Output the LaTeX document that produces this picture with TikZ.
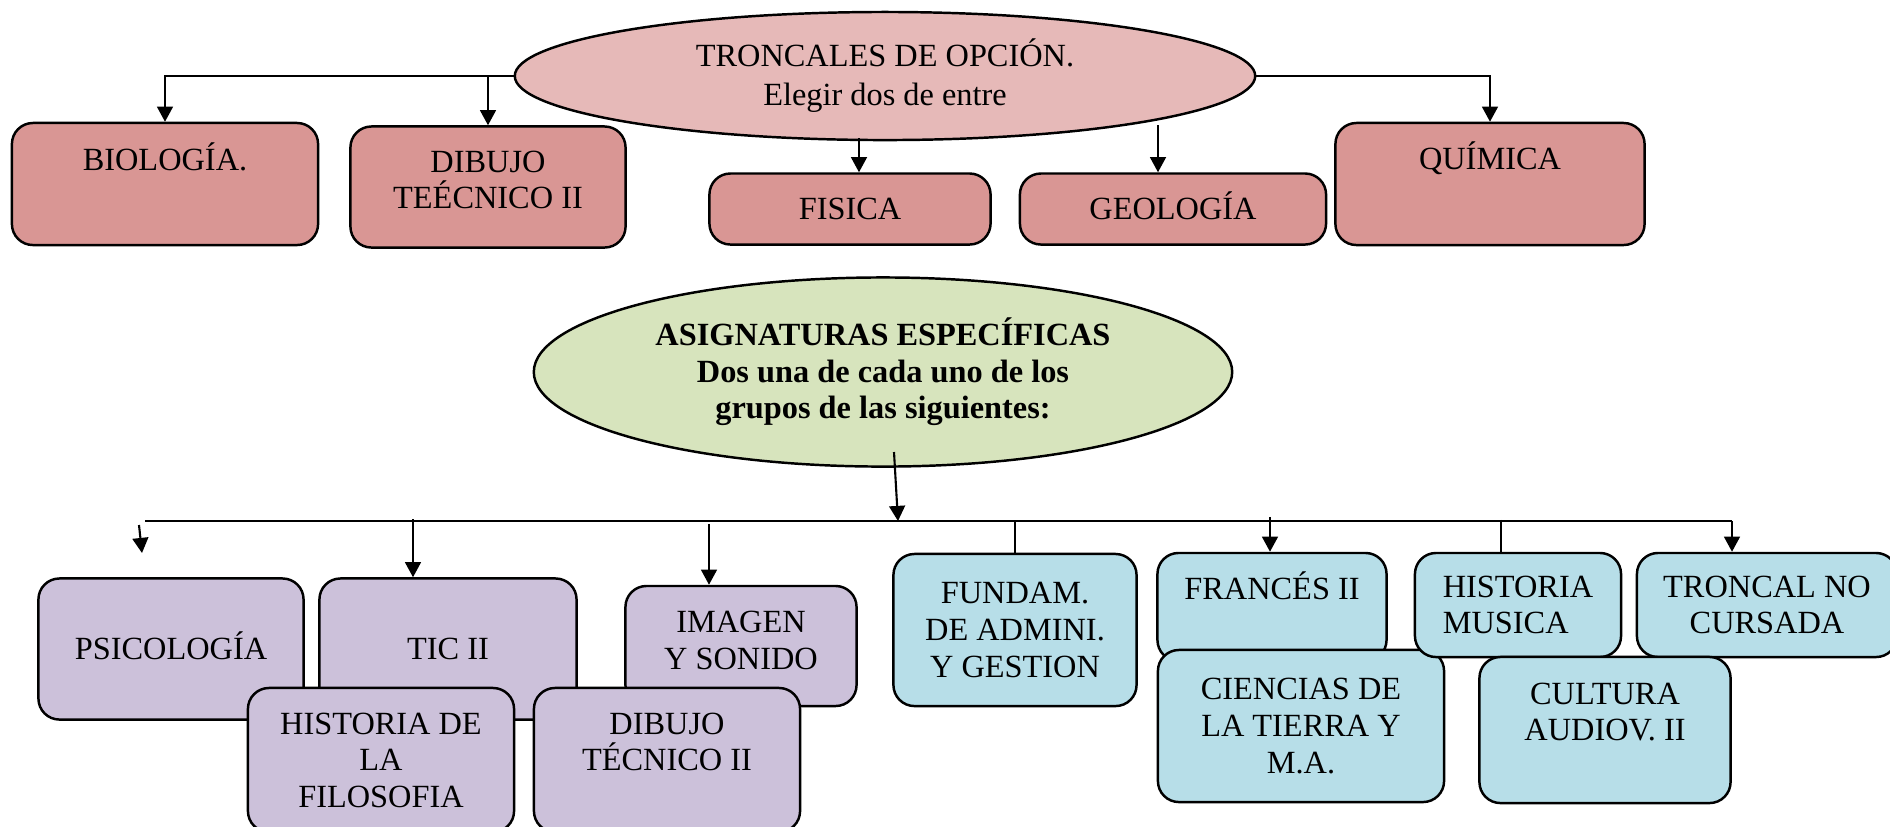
\documentclass[tikz,border=0pt]{standalone}
\usepackage{fontspec}
\setmainfont{Liberation Serif}
\usetikzlibrary{arrows.meta,shapes.geometric,calc}
\definecolor{rosaclaro}{HTML}{E6B9B8}
\definecolor{rosa}{HTML}{D99694}
\definecolor{verde}{HTML}{D7E4BD}
\definecolor{lila}{HTML}{CCC1DA}
\definecolor{celeste}{HTML}{B7DEE8}
\tikzset{
  caja/.style={draw,line width=0.7pt,rounded corners=0.21cm,inner sep=2pt,align=center},
  elipse/.style={draw,ellipse,line width=0.7pt,inner sep=0pt,align=center},
  linea/.style={text height=6.1pt,text depth=#1},
  linea/.default=0pt,
  flecha/.style={-{Triangle[length=4.3pt,width=4.5pt]}}
}

\begin{document}
\begin{tikzpicture}[x=0.01cm,y=-0.01cm,line width=0.6pt,font=\fontsize{9.2}{10.4}\selectfont]
        \useasboundingbox (0,0) rectangle (1890,826) ;
        % troncales de opcion
        \node[elipse,fill=rosaclaro,minimum width=7.4cm,minimum height=1.28cm] (tron) at (885,76)
        {TRONCALES DE OPCIÓN.\\[0.7pt]Elegir dos de entre} ;
        \node[caja,fill=rosa,linea=13.7pt,minimum width=3.06cm,minimum height=1.22cm] (bio) at (165,184) {BIOLOGÍA.} ;
        \node[caja,fill=rosa,minimum width=2.75cm,minimum height=1.21cm] (dib1) at (488,187) {DIBUJO\\TEÉCNICO II\\[-6.4pt]\mbox{}} ;
        \node[caja,fill=rosa,linea,minimum width=2.81cm,minimum height=0.71cm] (fis) at (850,209) {FISICA} ;
        \node[caja,fill=rosa,linea,minimum width=3.06cm,minimum height=0.71cm] (geo) at (1173,209) {GEOLOGÍA} ;
        \node[caja,fill=rosa,linea=14.2pt,minimum width=3.09cm,minimum height=1.22cm] (qui) at (1490,184) {QUÍMICA} ;
        \draw[flecha] (tron.west) -| (bio.north) ;
        \draw[flecha] (dib1.north |- tron.west) -- (dib1.north) ;
        \draw[flecha] (tron.east) -| (qui.north) ;
        \draw[flecha] ($(fis.north)+(9,-34)$) -- ($(fis.north)+(9,0)$) ;
        \coordinate (g0) at (1158,125) ;
        \draw[flecha] (g0) -- (g0 |- geo.north) ;
        % especificas
        \node[elipse,fill=verde,minimum width=6.98cm,minimum height=1.89cm,font=\fontsize{9.2}{10.4}\selectfont\bfseries] (esp) at (883,372)
        {ASIGNATURAS ESPECÍFICAS\\Dos una de cada uno de los\\grupos de las siguientes:} ;
        \node[caja,fill=lila,linea,minimum width=2.65cm,minimum height=1.41cm] (psi) at (171,649) {PSICOLOGÍA} ;
        \node[caja,fill=lila,linea,minimum width=2.57cm,minimum height=1.41cm] (tic) at (448,649) {TIC II} ;
        \node[caja,fill=lila,minimum width=2.31cm,minimum height=1.2cm] (img) at (741,646) {IMAGEN\\Y SONIDO\\[-7pt]\mbox{}} ;
        \node[caja,fill=lila,minimum width=2.66cm,minimum height=1.44cm] (fil) at (381,760) {HISTORIA DE\\LA\\FILOSOFIA} ;
        \node[caja,fill=lila,minimum width=2.66cm,minimum height=1.44cm] (dib2) at (667,760) {DIBUJO\\TÉCNICO II\\\mbox{}} ;
        \node[caja,fill=celeste,minimum width=2.43cm,minimum height=1.52cm] (fun) at (1015,630) {FUNDAM.\\DE ADMINI.\\Y GESTION} ;
        \node[caja,fill=celeste,linea=10.2pt,minimum width=2.29cm,minimum height=1.08cm] (fra) at (1272,607) {FRANCÉS II} ;
        \node[caja,fill=celeste,minimum width=2.86cm,minimum height=1.52cm] (cie) at (1301,726) {CIENCIAS DE\\LA TIERRA Y\\M.A.} ;
        \node[caja,fill=celeste,align=left,minimum width=2.06cm,minimum height=1.04cm] (hm) at (1518,605) {HISTORIA\\MUSICA} ;
        \node[caja,fill=celeste,minimum width=2.6cm,minimum height=1.04cm] (tnc) at (1767,605) {TRONCAL NO\\CURSADA} ;
        \node[caja,fill=celeste,minimum width=2.51cm,minimum height=1.46cm] (cul) at (1605,730) {CULTURA\\AUDIOV. II\\\mbox{}} ;
        % barra de reparto
        \coordinate (busL) at (145,521) ;
        \coordinate (busR) at (1732,521) ;
        \coordinate (e0) at (894,452) ;
        \coordinate (e1) at (898,521) ;
        \coordinate (p0) at (139,525) ;
        \coordinate (p1) at (142,553) ;
        \draw (busL) -- (busR) ;
        \draw[flecha] (e0) -- (e1) ;
        \draw[flecha] (p0) -- (p1) ;
        \draw[flecha] ($(tic.north)+(-35,-58)$) -- ($(tic.north)+(-35,0)$) ;
        \draw[flecha] ($(img.north)+(-32,-61)$) -- ($(img.north)+(-32,0)$) ;
        \draw (fun.north |- busL) -- (fun.north) ;
        \draw[flecha] ($(fra.north)+(-2,-35)$) -- ($(fra.north)+(-2,0)$) ;
        \draw ($(hm.north)+(-17,-32)$) -- ($(hm.north)+(-17,0)$) ;
        \draw[flecha] (busR) -- ($(tnc.north)+(-35,0)$) ;
\end{tikzpicture}
\end{document}
